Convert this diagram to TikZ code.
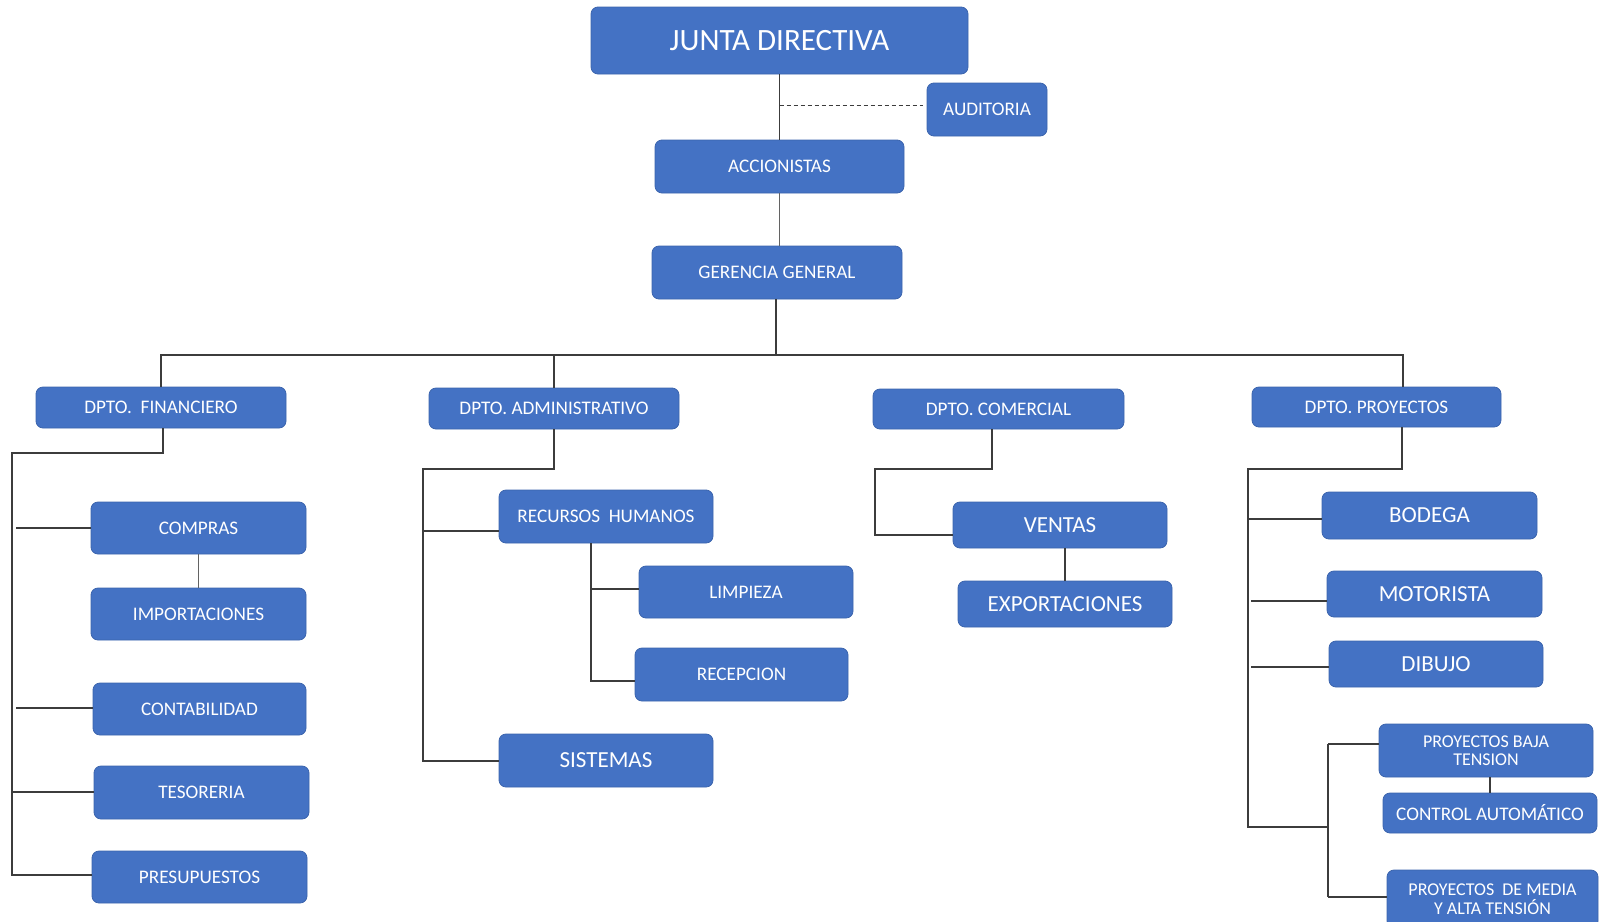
\documentclass[tikz,border=0pt]{standalone}
\usepackage{fontspec}
\setmainfont{Carlito}
\definecolor{boxblue}{HTML}{4472C4}
\definecolor{boxedge}{HTML}{3B64AD}
\definecolor{linecol}{HTML}{3C3C3C}
\tikzset{
  box/.style={rectangle, rounded corners=7pt, fill=boxblue, draw=boxedge, line width=0.8pt, text=white, inner sep=0pt, align=center},
  fs/.style={font=\fontsize{19.2}{21}\selectfont},
  fm/.style={font=\fontsize{23}{25}\selectfont},
  ft/.style={font=\fontsize{18}{18.5}\selectfont},
  fx/.style={font=\fontsize{31}{33}\selectfont},
  conn/.style={draw=linecol, line width=1.3pt},
  thinconn/.style={draw=linecol!80, line width=1pt},
}
\begin{document}
\begin{tikzpicture}[x=1pt, y=-1pt]
\useasboundingbox (0,0) rectangle (1602,921);
\clip (0,0) rectangle (1602,921);

% top levels
\node[box, fx, minimum width=377pt, minimum height=67pt] (JD) at (779.5,40.5) {JUNTA DIRECTIVA};
\node[box, fs, minimum width=120pt, minimum height=53pt] (AUD) at (987,109.5) {AUDITORIA};
\node[box, fs, minimum width=249pt, minimum height=53pt] (ACC) at (779.5,166.5) {ACCIONISTAS};
\node[box, fs, minimum width=250pt, minimum height=53pt] (GG) at (777,272.5) {GERENCIA GENERAL};

% departments
\node[box, fs, minimum width=250pt, minimum height=41pt] (FIN) at (161,407.5) {DPTO.~~FINANCIERO};
\node[box, fs, minimum width=250pt, minimum height=41pt] (ADM) at (554,408.5) {DPTO. ADMINISTRATIVO};
\node[box, fs, minimum width=251pt, minimum height=40pt] (COM) at (998.5,409) {DPTO. COMERCIAL};
\node[box, fs, minimum width=249pt, minimum height=40pt] (PRO) at (1376.5,407) {DPTO. PROYECTOS};

% financiero
\node[box, fs, minimum width=215pt, minimum height=52pt] (COMPRAS) at (198.5,528) {COMPRAS};
\node[box, fs, minimum width=215pt, minimum height=52pt] (IMPORT) at (198.5,614) {IMPORTACIONES};
\node[box, fs, minimum width=213pt, minimum height=52pt] (CONTAB) at (199.5,709) {CONTABILIDAD};
\node[box, fs, minimum width=215pt, minimum height=53pt] (TESOR) at (201.5,792.5) {TESORERIA};
\node[box, fs, minimum width=215pt, minimum height=52pt] (PRESUP) at (199.5,877) {PRESUPUESTOS};

% administrativo
\node[box, fs, minimum width=214pt, minimum height=53pt] (RH) at (606,516.5) {RECURSOS~~HUMANOS};
\node[box, fs, minimum width=214pt, minimum height=52pt] (LIMP) at (746,592) {LIMPIEZA};
\node[box, fs, minimum width=213pt, minimum height=53pt] (RECEP) at (741.5,674.5) {RECEPCION};
\node[box, fm, minimum width=214pt, minimum height=53pt] (SIST) at (606,760.5) {SISTEMAS};

% comercial
\node[box, fm, minimum width=214pt, minimum height=46pt] (VENT) at (1060,525) {VENTAS};
\node[box, fm, minimum width=214pt, minimum height=46pt] (EXPO) at (1065,604) {EXPORTACIONES};

% proyectos
\node[box, fm, minimum width=215pt, minimum height=47pt] (BOD) at (1429.5,515.5) {BODEGA};
\node[box, fm, minimum width=215pt, minimum height=46pt] (MOT) at (1434.5,594) {MOTORISTA};
\node[box, fm, minimum width=214pt, minimum height=46pt] (DIB) at (1436,664) {DIBUJO};
\node[box, ft, minimum width=214pt, minimum height=53pt] (PBT) at (1486,750.5) {PROYECTOS BAJA\\TENSION};
\node[box, fs, minimum width=214pt, minimum height=40pt] (CTRL) at (1490,813) {CONTROL AUTOMÁTICO};
\node[box, ft, minimum width=211pt, minimum height=58pt] (PMAT) at (1492.5,899) {PROYECTOS~~DE MEDIA\\Y ALTA TENSIÓN};

% coordinates of bends
\coordinate (dash) at (779.5,105);
\coordinate (busR) at (1403,355);
\coordinate (ggx) at (776,355);
\coordinate (fA) at (163,453);
\coordinate (fL) at (12,453);
\coordinate (fs1) at (16,528);
\coordinate (fs2) at (16,708);
\coordinate (fs3) at (12,792);
\coordinate (fs4) at (12,875);
\coordinate (aA) at (554,469);
\coordinate (aL) at (423,469);
\coordinate (aRH) at (423,531);
\coordinate (aS) at (423,761);
\coordinate (rT) at (591,543);
\coordinate (rL) at (591,589);
\coordinate (rR) at (591,681);
\coordinate (cA) at (992,469);
\coordinate (cL) at (875,469);
\coordinate (cV) at (875,535);
\coordinate (pA) at (1402,469);
\coordinate (pL) at (1248,469);
\coordinate (pB) at (1248,519);
\coordinate (pM) at (1251,601);
\coordinate (pD) at (1251,667);
\coordinate (pE) at (1248,827);
\coordinate (qE) at (1328,827);
\coordinate (qT) at (1328,744);
\coordinate (qB) at (1328,897);

% top connectors
\draw[conn] (JD) -- (ACC);
\draw[conn, line width=1pt, dashed, dash pattern=on 4pt off 3pt, shorten >=4pt] (dash) -- (AUD.west |- dash);
\draw[thinconn] (ACC.south) -- (ACC.south |- GG.north);
\draw[conn] (GG.south -| ggx) -- (ggx);
\draw[conn] (FIN.north) |- (busR) -- (busR |- PRO.north);
\draw[conn] (ADM.north) -- (ADM.north |- busR);

% financiero connectors
\draw[conn] (fA |- FIN.south) -- (fA) -- (fL) -- (fs4) -- (PRESUP.west |- fs4);
\draw[conn] (fs1) -- (COMPRAS.west |- fs1);
\draw[conn] (fs2) -- (CONTAB.west |- fs2);
\draw[conn] (fs3) -- (TESOR.west |- fs3);
\draw[thinconn] (COMPRAS) -- (IMPORT);

% administrativo connectors
\draw[conn] (aA |- ADM.south) -- (aA) -- (aL) -- (aS) -- (SIST.west |- aS);
\draw[conn] (aRH) -- (RH.west |- aRH);
\draw[conn] (rT) -- (rR) -- (RECEP.west |- rR);
\draw[conn] (rL) -- (LIMP.west |- rL);

% comercial connectors
\draw[conn] (cA |- COM.south) -- (cA) -- (cL) -- (cV) -- (VENT.west |- cV);
\draw[conn] (VENT.south -| EXPO.north) -- (EXPO.north);

% proyectos connectors
\draw[conn] (pA |- PRO.south) -- (pA) -- (pL) -- (pE) -- (qE);
\draw[conn] (pB) -- (BOD.west |- pB);
\draw[conn] (pM) -- (MOT.west |- pM);
\draw[conn] (pD) -- (DIB.west |- pD);
\draw[conn] (qT) -- (qB);
\draw[conn] (qT) -- (PBT.west |- qT);
\draw[conn] (qB) -- (PMAT.west |- qB);
\draw[conn] (PBT.south -| CTRL.north) -- (CTRL.north);
\end{tikzpicture}
\end{document}
